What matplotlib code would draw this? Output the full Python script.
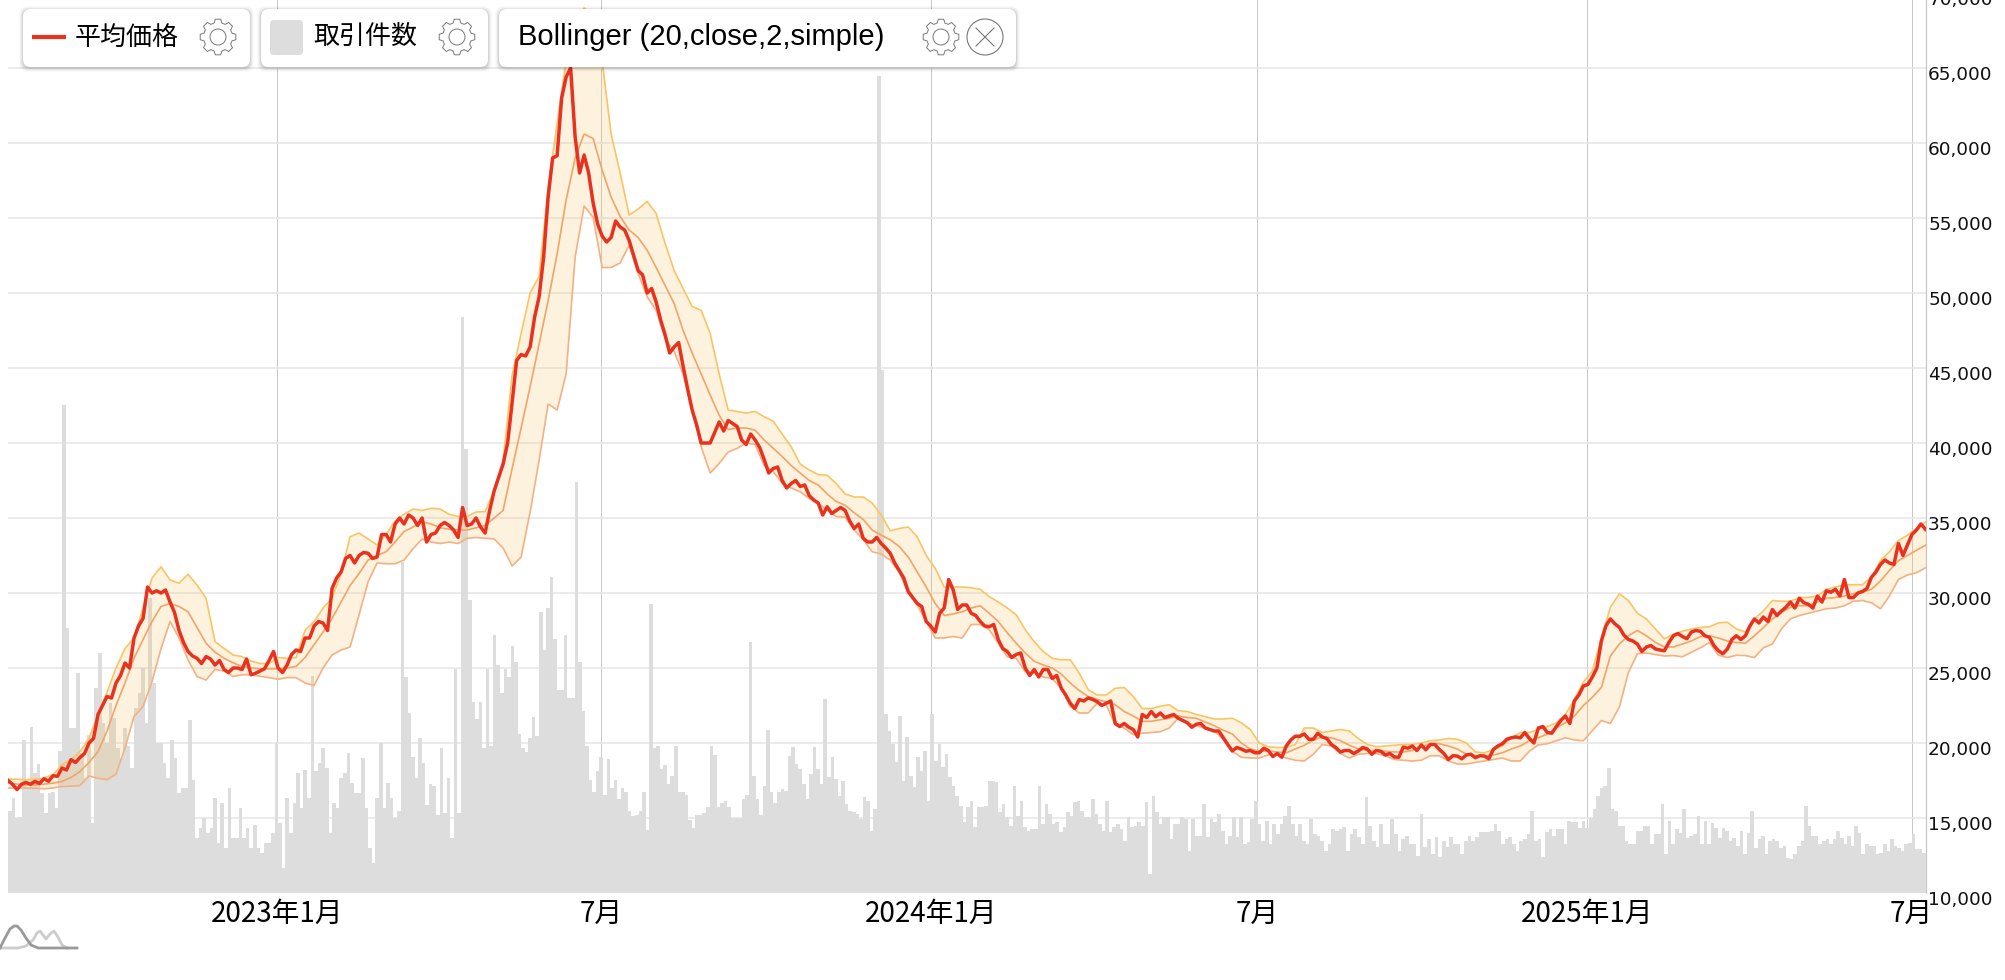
import numpy as np
import pandas as pd
import matplotlib
matplotlib.use("Agg")
import matplotlib.pyplot as plt
import matplotlib.dates as mdates
from matplotlib.patches import FancyBboxPatch, Circle, Polygon
from matplotlib.transforms import ScaledTranslation
from matplotlib.ticker import FuncFormatter

W, H = 2006, 980
START = pd.Timestamp("2022-08-04")

# average price, one reading about every 2.5 days from START
price = [17500,17250,16900,17250,17370,17250,17440,17300,17620,17450,17820,17780,18330,18200,18890,18700,19040,19300,20000,20300,
21900,22500,23100,23000,24000,24500,25330,25000,27000,27800,28300,30400,30000,30150,30000,30200,29400,28700,27500,26700,
26100,25800,25650,25300,25760,25600,25200,25500,24900,24700,25000,25000,24900,25600,24550,24650,24800,24950,25500,26100,
25000,24700,25200,25900,26200,26100,27000,27000,27800,28100,28000,27500,30300,31000,31400,32300,32500,32000,32500,32700,
32650,32300,32400,33900,33900,33400,34600,35000,34600,35200,35000,34500,35000,33400,33900,34000,34500,34700,34500,34200,
33700,35700,34500,34600,35000,34400,34000,35500,36800,37700,38600,40000,42700,45500,45900,45800,46400,48400,49750,52400,
56400,59000,59150,63000,64400,65000,60400,58000,59200,58000,56000,54600,53800,53400,53700,54800,54400,54200,53500,52500,
51500,51200,50000,50300,49400,48200,47200,46000,46400,46700,45100,43600,42200,41200,40000,40000,40000,40700,41400,40800,
41500,41300,41100,40200,39900,40600,40200,39700,38900,38000,38300,38400,37500,37000,37300,37500,37100,37200,36500,36200,
36000,35200,35750,35300,35500,35700,35500,34800,34300,34600,33650,33400,33400,33700,33300,33000,32650,32000,31500,31000,
30100,29700,29300,29100,28100,27800,27400,28650,29000,30900,30200,28900,29200,29200,28650,28500,28100,27800,27750,27900,
26900,26300,26100,25700,25900,26000,25000,24500,24900,24400,24900,24900,24300,24500,23650,23200,22650,22300,22900,22800,
23000,22900,22750,22500,22650,22800,21300,21100,21300,21050,20900,20400,21900,21700,22100,21750,22000,21700,21800,21900,
21650,21500,21350,21050,21250,21300,21000,20900,20800,20800,20350,19900,19470,19700,19600,19450,19500,19350,19350,19650,
19500,19100,19300,19050,19800,20200,20450,20450,20600,20250,20250,20650,20400,20300,19900,19700,19400,19500,19500,19300,
19470,19700,19600,19250,19500,19450,19200,19300,19070,19050,19730,19650,19800,19500,19870,19550,19900,19900,19570,19300,
18900,19150,19130,18950,19200,19250,19020,19150,19130,18950,19570,19800,19950,20250,20350,20400,20350,20700,20300,20000,
21000,21100,20700,20650,21100,21500,21800,21300,22800,23200,23800,23900,24400,25000,26800,27800,28270,27950,27700,27200,
26900,26800,26600,26100,26400,26500,26270,26200,26150,26700,27150,27300,27100,26950,27400,27500,27450,27150,27050,26500,
26150,25950,26270,26900,27150,26900,27150,27800,28270,28000,28400,28100,28900,28500,28800,29050,29400,29000,29650,29350,
29250,29000,29800,29400,30150,30050,30250,29800,30900,29700,29700,30000,30100,30300,31050,31400,31900,32200,32000,31900,
33300,32500,33200,33900,34200,34600,34250]

# Bollinger bands, one reading about every 5 days from START, the last at the end of the data
band_upper = [17600,17580,17550,17600,17650,17900,18550,18900,19430,20300,21900,23400,25000,26300,27000,29000,31000,31750,30870,30650,
31250,30530,29650,26760,26300,25870,25760,25470,25300,25300,25700,25650,25700,27500,28100,29000,29650,31300,33750,34000,
33600,33200,33900,34800,35250,35600,35500,35650,35600,35250,35100,35100,35400,35430,36800,38800,44500,47300,50000,51100,
57000,61300,65500,68000,69000,68500,65500,60600,58000,55200,55600,56100,55300,53300,51500,50300,49100,48850,47300,44600,
42200,42100,42000,42100,41750,41450,40600,39750,38600,38200,37900,37850,37300,36600,36400,36400,36000,35200,34150,34300,
34400,33750,32500,31650,30400,30400,30400,30350,30250,29760,29400,29000,28550,27550,26750,26100,25650,25550,25550,24650,
23550,23200,23200,23650,23700,23100,22300,22300,22450,22550,22150,22100,21900,21750,21600,21600,21650,21350,20900,20000,
19750,19700,19700,19900,21000,21000,20700,20800,20900,20800,20300,19900,19750,19800,19850,19900,19900,20000,20150,20200,
20300,20250,20000,19400,19350,19550,19800,20350,20700,20700,20900,21100,21350,21900,22900,24050,24800,27000,29050,29950,
29500,28650,28270,27600,26950,27250,27450,27600,27700,27750,28000,28050,27600,27400,28270,28800,29500,29450,29450,29700,
29700,29800,30250,30400,30550,30550,30550,31050,32150,32750,33500,33850,34300,34750]
band_mid = [17330,17260,17200,17200,17260,17320,17440,17700,18100,18700,19430,20800,22500,24000,25650,26900,28100,29100,29300,29100,
28750,27700,26650,26050,25650,25350,25100,25000,24950,24950,24950,25000,25100,25700,26550,27400,28300,29400,30500,31300,
32200,32500,32750,33400,34100,34400,34750,34600,34350,34250,34200,34200,34350,34500,35000,35500,38300,41000,43750,46600,
49500,52600,56200,59000,60600,60300,58200,56400,55100,54200,53700,52850,51700,50500,49300,47500,46000,44600,43200,41850,
40900,41000,41000,40850,40200,39650,39100,38500,38000,37500,37200,36600,36100,35850,35350,34900,34200,33850,33550,33100,
32400,31400,30400,29300,28500,28600,28750,29000,29150,28650,28100,27350,26650,26000,25450,25200,25000,24600,24000,23500,
23100,22900,22750,22550,22100,21800,21450,21450,21550,21650,21800,21700,21650,21400,21150,20850,20600,20000,19600,19450,
19450,19400,19350,19600,19850,20200,20400,20350,20150,19850,19600,19500,19500,19450,19400,19400,19500,19750,19950,19950,
19800,19600,19250,19150,19150,19200,19350,19600,19800,20150,20350,20600,21000,21350,21800,22500,23050,23700,25800,26600,
27150,27500,27150,26700,26400,26400,26600,26800,27100,27150,27000,26800,26700,26650,27150,27700,28270,28700,29050,29150,
29150,29400,29650,29700,29800,29950,30050,30250,30800,31500,32150,32500,32850,33200]
band_lower = [17000,17000,17000,16980,16950,17000,17100,17120,17170,17800,17650,17550,17930,19660,21770,22430,24100,26300,28100,27000,
25540,24430,24200,24900,24800,24430,24550,24550,24450,24360,24250,24360,24360,24000,23830,25000,25870,26200,26400,28550,
30750,32000,31950,31950,32200,32950,33600,33400,33300,33400,33300,33650,33700,33650,33600,33000,31800,32400,35400,38860,
42600,42200,44600,52400,55800,55050,51700,51700,52000,53200,51300,49750,48850,46950,46100,44600,42200,39750,38000,38640,
39400,39640,40000,39900,38500,38100,37300,37000,36750,36300,36000,35500,35100,35050,34200,33550,32750,32600,32200,31400,
30000,29200,28100,27000,27000,27100,27000,27900,27900,27550,26650,25750,25650,24750,24650,24400,24300,23650,22450,22000,
22000,22650,22550,21200,21000,20550,20650,20700,20750,21000,21650,21350,21150,20980,20800,20250,19450,19050,19000,19000,
19200,19200,19000,18850,18800,19250,19900,19800,19300,19000,19250,19300,19300,19150,18900,18850,18800,18850,19150,19150,
18800,18600,18600,18700,18800,18900,19000,18800,18800,19450,19870,19950,20150,20350,20200,20150,20830,21500,21300,22400,
24700,25950,26000,25900,25800,25830,25750,26050,26350,26700,25850,25700,25850,25830,25700,26350,26600,27600,28270,28500,
28650,28800,28950,29000,29150,29450,29500,29350,28950,29800,30900,31200,31350,31700]

# number of deals, five stretches of readings about two days apart
vol_a = [82,95,75,76,153,105,166,120,129,100,80,100,101,85,142,488,265,165,165,220,140,115,158,70,205,240,170,150,190,175,
145,135,165,147,125,185,200,225,170,295,210,150,150,130,115,153,135,100,105,105,173,113,55,65,75,60,65,95,50,90,
45,105,55,55,85,55,65,45,68,45,40,50,50,60,150,70,25,95,60,90,120,85,123,95,217,122,130,145,125,60,
90,85,115,120,140,110,100,100,135,85,45,30,95,150,85,110,95,75]
vol_b = [82,331,216,180,136,115,155,130,88,109,107,78,145,80,115,55,224,80,576,444,293,191,174,191,145,224,147,258,
228,200,224,216,247,231,159,145,141,155,176,157,281,243,285,316,254,203,203,258,195,195,411,231,182,147,113,101,122,136,
98,134,105,113,94,105,101,82,77,78,82,101,63,289,145,147,124,128,109,117,147,101,101,98,73,65,78,78,80,86,
147,138,86,90,92,86,75,75,75,94,98,251,117,94,78,107,163,101,90,101]
vol_c = [104,102,137,146,129,124,109,94,119,146,124,109,194,116,136,114,97,112,89,82,81,79,74,96,92,62,84,817,523,179,
162,149,131,177,112,156,117,106,136,122,142,92,179,132,149,126,139,116,107,97,87,71,86,92,66,86,86,87,112,112,
111,81,89,76,67,107,77,92,66,62,64,64,107,69,89,79,69,71,61,66,81,77,91,92,82,76,76,94,79,69,
62,92,61,66,69,64,52,76,66,67,71,67,91,19,97,81,69,76,76,54,69,69]
vol_d = [76,74,42,74,57,57,89,56,74,71,79,62,49,57,76,56,76,49,51,74,92,69,52,72,49,69,59,69,77,87,
69,57,69,52,49,74,59,57,52,42,49,64,62,64,66,42,59,64,56,49,96,67,52,46,69,49,49,74,59,42,
54,57,49,49,37,79,46,54,39,56,36,52,46,56,49,49,39,52,57,52,56,61,61,61,62,69,62,49,54,56,
49,42,52,54,59,82,52,54,36,61,64,57,64,64,49,72,71,71]
vol_e = [65,72,65,75,84,97,105,107,125,84,82,67,67,52,49,49,62,62,67,67,49,59,59,89,39,72,49,64,60,84,
55,57,59,77,49,72,49,70,65,55,65,62,52,55,47,62,39,60,82,45,54,57,39,52,54,52,45,47,35,34,
39,47,52,87,67,57,57,49,52,54,49,54,62,55,49,57,47,67,60,39,49,47,47,39,40,49,42,54,47,45,
42,49,50,59,44,44,40]
vol_starts = [-150, 67, 281, 504, 726, 920]   # days from 2023-01-01

y_ticks = list(range(10000, 70001, 5000))
x_ticks = ["2023-01-01", "2023-07-01", "2024-01-01", "2024-07-01", "2025-01-01", "2025-07-01"]
x_labels = ["2023年1月", "7月", "2024年1月", "7月", "2025年1月", "7月"]
END = pd.Timestamp("2025-07-09")
PRICE_STEP_DAYS = 2.511
BAND_STEP_DAYS = 5.022

BAR = "#dddddd"
RED = "#e8311f"

fig = plt.figure(figsize=(W / 100, H / 100), dpi=100, facecolor="white")
rect = [8 / W, (H - 893) / H, 1918 / W, 900 / H]

base = fig.add_axes(rect, zorder=1)
vol_ax = fig.add_axes(rect, zorder=2, facecolor="none")
ax = fig.add_axes(rect, zorder=3, facecolor="none")

xlim = (mdates.date2num(START), mdates.date2num(END))
for a in (base, vol_ax, ax):
    a.set_xlim(*xlim)
    for s in a.spines.values():
        s.set_visible(False)
for a in (vol_ax, ax):
    a.set_xticks([])
    a.set_yticks([])
ax.set_ylim(10000, 70000)
base.set_ylim(10000, 70000)
vol_ax.set_ylim(0, 900)

tick_nums = mdates.date2num(pd.to_datetime(x_ticks))
base.set_xticks(tick_nums)
base.set_xticklabels(x_labels, family=["Noto Sans CJK JP", "DejaVu Sans"], fontsize=20, color="black")
base.set_yticks(y_ticks)
base.yaxis.set_major_formatter(FuncFormatter(lambda v, p: f"{int(v):,}"))
base.yaxis.tick_right()
base.tick_params(axis="y", length=0, pad=1.5, labelsize=13.3, labelcolor="#111111")
base.tick_params(axis="x", length=0, pad=4)
off = ScaledTranslation(0, -5 / 100, fig.dpi_scale_trans)
for lab in base.get_yticklabels():
    lab.set_transform(lab.get_transform() + off)
    lab.set_family("DejaVu Sans")
base.grid(axis="y", color="#e6e6e6", lw=1.1)
base.grid(axis="x", color="#c8c8c8", lw=0.7)
base.axvline(xlim[1], color="#c8c8c8", lw=0.9, clip_on=False)

base_num = mdates.date2num(pd.Timestamp("2023-01-01"))
for i, seg in enumerate([vol_a, vol_b, vol_c, vol_d, vol_e]):
    edges = np.linspace(vol_starts[i], vol_starts[i + 1], len(seg) + 1) + base_num
    vol_ax.bar(edges[:-1], seg, width=np.diff(edges), align="edge", color=BAR, linewidth=0)

start_num = mdates.date2num(START)
px = start_num + np.arange(len(price)) * PRICE_STEP_DAYS
assert len(band_upper) == len(band_mid) == len(band_lower)
bx = start_num + np.arange(len(band_upper)) * BAND_STEP_DAYS
bx[-1] = xlim[1]
ax.fill_between(bx, band_lower, band_upper, color=(245 / 255, 190 / 255, 90 / 255), alpha=0.2, linewidth=0)
ax.plot(bx, band_upper, color="#f9c562", lw=1.2)
ax.plot(bx, band_lower, color="#f3b184", lw=1.2)
ax.plot(bx, band_mid, color="#f2a468", lw=1.2)
ax.plot(px, price, color=RED, lw=2.5, solid_joinstyle="round")

ov = fig.add_axes([0, 0, 1, 1], zorder=5, facecolor="none")
ov.set_xlim(0, W)
ov.set_ylim(H, 0)
ov.axis("off")

def chip(x0, x1):
    y0, y1 = 9, 67
    for g, al in [(4, .02), (3, .03), (2, .05), (1, .07)]:
        ov.add_patch(FancyBboxPatch((x0 - g + 8, y0 - g + 9), x1 - x0 + 2 * g - 16, y1 - y0 + 2 * g - 16,
                                    boxstyle="round,pad=8", fc="black", ec="none", alpha=al))
    ov.add_patch(FancyBboxPatch((x0 + 8, y0 + 8), x1 - x0 - 16, y1 - y0 - 16,
                                boxstyle="round,pad=8", fc="white", ec="none"))

def gear(cx, cy):
    n = 8
    pts = []
    for k in range(n):
        t = 2 * np.pi * k / n
        for dt, r in [(-0.27, 14.5), (-0.15, 18), (0.15, 18), (0.27, 14.5)]:
            pts.append((cx + r * np.cos(t + dt), cy + r * np.sin(t + dt)))
    ov.add_patch(Polygon(pts, closed=True, fc="none", ec="#777777", lw=0.7))
    ov.add_patch(Circle((cx, cy), 8, fc="none", ec="#777777", lw=0.7))

chip(23, 250)
chip(261, 488)
chip(499, 1016)
ov.plot([32, 66], [37, 37], color=RED, lw=3, solid_capstyle="butt")
ov.add_patch(FancyBboxPatch((274, 24), 25, 27, boxstyle="round,pad=4", fc=BAR, ec="none"))
cjk = ["Noto Sans CJK JP", "DejaVu Sans"]
ov.text(75, 37, "平均価格", family=cjk, fontsize=18.7, va="center", ha="left", color="black")
ov.text(313, 37, "取引件数", family=cjk, fontsize=18.7, va="center", ha="left", color="black")
ov.text(518, 37, "Bollinger (20,close,2,simple)", family=["Liberation Sans"], fontsize=21, va="center", ha="left", color="black")
gear(218, 37)
gear(457, 37)
gear(941, 37)
ov.add_patch(Circle((985, 37), 18, fc="none", ec="#777777", lw=0.8))
ov.plot([976, 994], [28, 46], color="#777777", lw=0.8)
ov.plot([976, 994], [46, 28], color="#777777", lw=0.8)

ov.plot([0, 18, 26, 33, 37, 40, 43, 46, 50, 54, 58, 62, 67], [948, 948, 946, 940, 933, 931, 935, 939, 934, 931, 937, 945, 948],
        color="#cccccc", lw=2, solid_joinstyle="round")
ov.plot([0, 5, 10, 14, 17, 21, 26, 31, 38, 77], [948, 938, 929, 926, 926, 930, 938, 945, 948, 948],
        color="#999999", lw=2, solid_joinstyle="round")

fig.savefig("out.png", dpi=100)
